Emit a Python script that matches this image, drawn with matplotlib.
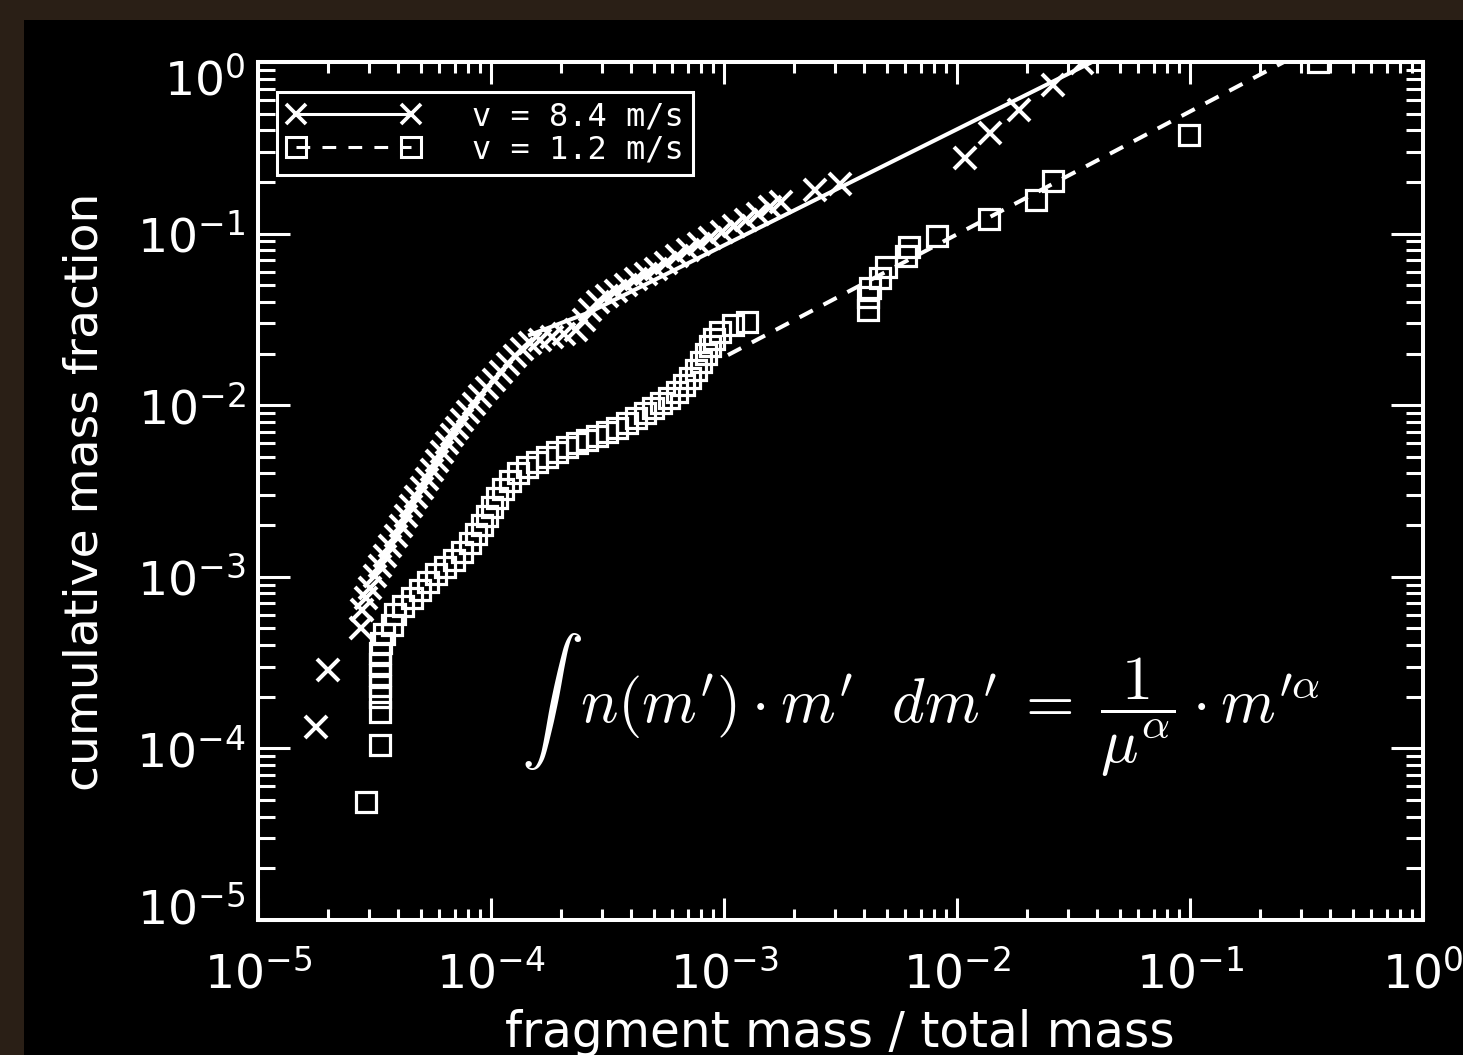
# -*- coding: utf-8 -*-
"""Cumulative mass fraction of fragments vs. fragment mass, two impact speeds."""
import numpy as np
import matplotlib; matplotlib.use("Agg")
import matplotlib.pyplot as plt
from matplotlib.lines import Line2D
from matplotlib.patches import Rectangle
from matplotlib.ticker import LogLocator, NullFormatter
from matplotlib.transforms import ScaledTranslation

plt.rcParams.update({"font.family": ["DejaVu Sans"], "font.size": 34,
                     "axes.linewidth": 2.9})

BORDER = "#2a1f16"

# v = 8.4 m/s fragments (crosses): fragment mass / total mass, cumulative fraction
m_fast = [1.77e-5, 2.00e-5, 2.77e-5, 2.80e-5, 2.91e-5, 3.02e-5, 3.18e-5, 3.34e-5,
          3.51e-5, 3.69e-5, 3.91e-5, 4.11e-5, 4.32e-5, 4.54e-5, 4.77e-5, 5.06e-5,
          5.31e-5, 5.58e-5, 5.87e-5, 6.16e-5, 6.47e-5, 6.80e-5, 7.15e-5, 7.51e-5,
          7.97e-5, 8.45e-5, 8.97e-5, 9.61e-5, 1.03e-4, 1.10e-4, 1.18e-4, 1.27e-4,
          1.36e-4, 1.47e-4, 1.62e-4, 1.83e-4, 2.06e-4, 2.32e-4, 2.51e-4, 2.66e-4,
          2.88e-4, 3.15e-4, 3.44e-4, 3.80e-4, 4.19e-4, 4.63e-4, 5.11e-4, 5.64e-4,
          6.28e-4, 7.01e-4, 7.81e-4, 8.71e-4, 9.80e-4, 1.10e-3, 1.24e-3, 1.40e-3,
          1.58e-3, 1.76e-3, 2.46e-3, 3.15e-3, 1.08e-2, 1.39e-2, 1.85e-2, 2.58e-2,
          3.44e-2]
c_fast = [1.33e-4, 2.86e-4, 5.03e-4, 6.40e-4, 7.52e-4, 8.60e-4, 1.01e-3, 1.16e-3,
          1.32e-3, 1.51e-3, 1.73e-3, 1.98e-3, 2.26e-3, 2.58e-3, 2.92e-3, 3.29e-3,
          3.71e-3, 4.19e-3, 4.73e-3, 5.33e-3, 6.02e-3, 6.70e-3, 7.36e-3, 8.19e-3,
          9.12e-3, 1.02e-2, 1.13e-2, 1.26e-2, 1.40e-2, 1.56e-2, 1.74e-2, 1.93e-2,
          2.13e-2, 2.30e-2, 2.40e-2, 2.50e-2, 2.60e-2, 2.74e-2, 3.14e-2, 3.59e-2,
          3.99e-2, 4.33e-2, 4.63e-2, 5.02e-2, 5.44e-2, 5.81e-2, 6.22e-2, 6.74e-2,
          7.40e-2, 8.02e-2, 8.70e-2, 9.42e-2, 0.102, 0.111, 0.120, 0.130,
          0.143, 0.153, 0.179, 0.195, 0.276, 0.386, 0.525, 0.735,
          0.987]

# v = 1.2 m/s fragments (squares)
m_slow = [2.91e-5, 3.34e-5, 3.34e-5, 3.34e-5, 3.34e-5, 3.34e-5, 3.34e-5, 3.34e-5,
          3.37e-5, 3.47e-5, 3.76e-5, 3.87e-5, 4.19e-5, 4.58e-5, 4.96e-5, 5.37e-5,
          5.81e-5, 6.35e-5, 6.94e-5, 7.51e-5, 8.12e-5, 8.62e-5, 9.15e-5, 9.61e-5,
          1.01e-4, 1.06e-4, 1.13e-4, 1.21e-4, 1.31e-4, 1.43e-4, 1.58e-4, 1.74e-4,
          1.92e-4, 2.12e-4, 2.34e-4, 2.58e-4, 2.85e-4, 3.15e-4, 3.47e-4, 3.83e-4,
          4.19e-4, 4.58e-4, 4.96e-4, 5.37e-4, 5.81e-4, 6.28e-4, 6.73e-4, 7.15e-4,
          7.58e-4, 7.97e-4, 8.37e-4, 8.71e-4, 9.06e-4, 9.61e-4, 1.09e-3, 1.26e-3,
          4.15e-3, 4.15e-3, 4.23e-3, 4.67e-3, 4.96e-3, 6.04e-3, 6.22e-3, 8.21e-3,
          1.37e-2, 2.18e-2, 2.58e-2, 9.90e-2, 0.354]
c_slow = [4.87e-5, 1.05e-4, 1.63e-4, 1.99e-4, 2.31e-4, 2.68e-4, 3.10e-4, 3.60e-4,
          4.11e-4, 4.64e-4, 5.23e-4, 6.07e-4, 6.75e-4, 7.52e-4, 8.37e-4, 9.32e-4,
          1.04e-3, 1.14e-3, 1.25e-3, 1.39e-3, 1.57e-3, 1.78e-3, 2.00e-3, 2.26e-3,
          2.55e-3, 2.88e-3, 3.25e-3, 3.61e-3, 4.02e-3, 4.36e-3, 4.66e-3, 4.99e-3,
          5.33e-3, 5.70e-3, 6.02e-3, 6.27e-3, 6.61e-3, 6.98e-3, 7.36e-3, 7.87e-3,
          8.42e-3, 9.00e-3, 9.62e-3, 1.03e-2, 1.10e-2, 1.19e-2, 1.31e-2, 1.44e-2,
          1.60e-2, 1.78e-2, 1.99e-2, 2.21e-2, 2.43e-2, 2.67e-2, 2.93e-2, 3.05e-2,
          3.59e-2, 4.27e-2, 4.82e-2, 5.51e-2, 6.39e-2, 7.40e-2, 8.35e-2, 9.68e-2,
          0.122, 0.157, 0.203, 0.375, 1.0]

# power-law fits drawn through the data
fit_fast_m = [1.47e-4, 2.66e-4, 3.8e-2]
fit_fast_c = [2.57e-2, 3.49e-2, 1.0]
fit_slow_m = [1.04e-3, 0.253]
fit_slow_c = [1.96e-2, 1.0]

LABELS = ["v = 8.4 m/s", "v = 1.2 m/s"]
EQUATION = (r"$\int\;\, n(m^{\prime})\cdot m^{\prime}\ \ dm^{\prime}"
            r"\;=\;\dfrac{1}{\mu^{\alpha}}\cdot m^{\prime\alpha}$")


def main():
    W, H = 1463, 1055
    fig = plt.figure(figsize=(W / 100, H / 100), dpi=100, facecolor=BORDER)
    fig.add_artist(Rectangle((24 / W, 0), 1, 1 - 20 / H, transform=fig.transFigure,
                             facecolor="black", edgecolor="none", zorder=-10))
    ax = fig.add_axes([258 / W, 1 - 920 / H, (1423 - 258) / W, (920 - 62) / H])
    ax.set_facecolor("black")

    ls_dash = (0, (3.7, 3.0))
    ax.plot(fit_fast_m, fit_fast_c, color="w", lw=2.9, zorder=3)
    ax.plot(fit_slow_m, fit_slow_c, color="w", lw=2.9, ls=ls_dash, zorder=3)
    ax.plot(m_fast, c_fast, ls="none", marker="x", ms=16, mew=2.9, color="w", zorder=4)
    ax.plot(m_slow, c_slow, ls="none", marker="s", ms=15, mew=2.3, mfc="none",
            mec="w", zorder=4)

    ax.set_xscale("log"); ax.set_yscale("log")
    ax.set_xlim(1e-5, 1); ax.set_ylim(1e-5, 1)
    for axis in (ax.xaxis, ax.yaxis):
        axis.set_major_locator(LogLocator(base=10, numticks=10))
        axis.set_minor_locator(LogLocator(base=10, subs=np.arange(2, 10), numticks=10))
        axis.set_minor_formatter(NullFormatter())
    for s in ax.spines.values():
        s.set_color("w")
    ax.tick_params(which="both", direction="in", colors="w", top=True, right=True, width=2.2)
    ax.tick_params(axis="x", which="major", length=16, pad=22)
    ax.tick_params(axis="x", which="minor", length=8)
    ax.tick_params(axis="y", which="major", length=23, pad=9)
    ax.tick_params(axis="y", which="minor", length=12)

    # the end labels of the y axis sit inside the frame, as in the original
    shift = {1.0: -15, 1e-5: 15}
    for tick, loc in zip(ax.yaxis.get_major_ticks(), ax.yaxis.get_majorticklocs()):
        for val, dy in shift.items():
            if np.isclose(loc, val):
                tick.label1.set_transform(tick.label1.get_transform()
                                          + ScaledTranslation(0, dy / 100, fig.dpi_scale_trans))

    fig.text(85 / W, 1 - 492 / H, "cumulative mass fraction", rotation=90,
             ha="center", va="center", color="w")
    fig.text(840 / W, 1 - 1047 / H, "fragment mass / total mass",
             ha="center", va="baseline", color="w", fontsize=35)

    ax.text(0.569, 0.25, EQUATION, transform=ax.transAxes, ha="center", va="center",
            color="w", fontsize=45, math_fontfamily="cm")

    handles = [Line2D([], [], color="w", lw=2.2, marker="x", ms=15, mew=2.7),
               Line2D([], [], color="w", lw=2.2, ls=(0, (4.5, 4.0)), marker="s", ms=14,
                      mew=2.2, mfc="none")]
    leg = ax.legend(handles, LABELS, loc="upper left", bbox_to_anchor=(0.0163, 0.965),
                    borderaxespad=0, numpoints=2, handlelength=4.2, handletextpad=1.6,
                    labelspacing=0.05, borderpad=0.3, fancybox=False,
                    prop={"family": "DejaVu Sans Mono", "size": 23},
                    framealpha=1, facecolor="black", edgecolor="w", labelcolor="w")
    leg.get_frame().set_linewidth(2.2)

    fig.savefig("out.png", dpi=100, facecolor=fig.get_facecolor())


if __name__ == "__main__":
    main()
